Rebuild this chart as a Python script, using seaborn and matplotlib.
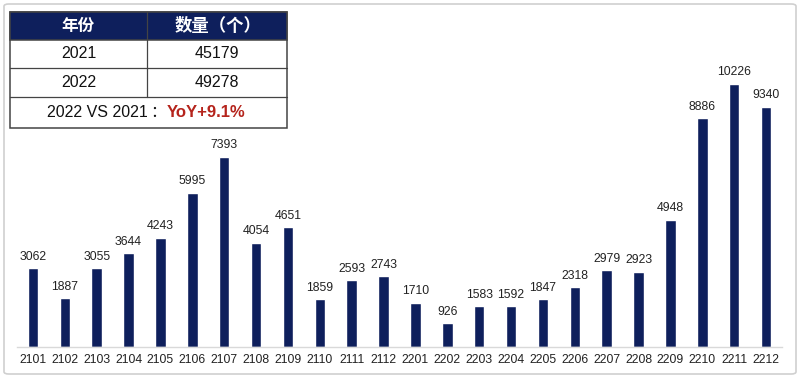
"""Monthly counts 2021-2022 bar chart with summary table"""

import pandas as pd
import matplotlib.pyplot as plt
import matplotlib.patches as mpatches
import seaborn as sns

#####################################################################
# data
months = ["2101", "2102", "2103", "2104", "2105", "2106", "2107", "2108",
          "2109", "2110", "2111", "2112", "2201", "2202", "2203", "2204",
          "2205", "2206", "2207", "2208", "2209", "2210", "2211", "2212"]
counts = [3062, 1887, 3055, 3644, 4243, 5995, 7393, 4054,
          4651, 1859, 2593, 2743, 1710, 926, 1583, 1592,
          1847, 2318, 2979, 2923, 4948, 8886, 10226, 9340]

table_header = ["年份", "数量（个）"]
table_years = ["2021", "2022"]
table_totals = ["45179", "49278"]
compare_text = "2022 VS 2021"
yoy_text = "YoY+9.1%"

df = pd.DataFrame({"month": months, "count": counts})

#####################################################################
# style
sns.set_style("white")
plt.rcParams['font.family'] = ['Liberation Sans', 'Noto Sans CJK SC', 'DejaVu Sans']

navy = '#0e1f5c'
W, H = 800, 378

fig = plt.figure(figsize=(8, 3.78), dpi=100)
# axes in pixel terms: x 17..782, baseline at y=347
ax = fig.add_axes([17 / W, (H - 347) / H, (782 - 17) / W, (347 - 8) / H])

sns.barplot(data=df, x="month", y="count", color=navy, width=0.33,
            saturation=1, ax=ax)
ax.bar_label(ax.containers[0], labels=[str(v) for v in counts],
             padding=4, fontsize=8.8, color='#222222')

ax.set_xlim(-0.5, len(months) - 0.5)
ax.set_ylim(0, 10226 * (347 - 8) / 263)
ax.set_xlabel("")
ax.set_ylabel("")
ax.set_yticks([])
ax.tick_params(axis='x', length=0, labelsize=8.8, pad=5, labelcolor='#222222')
for side in ['left', 'right', 'top']:
    ax.spines[side].set_visible(False)
ax.spines['bottom'].set_color('#d9d9d9')
ax.spines['bottom'].set_linewidth(1)

#####################################################################
# outer border
fig.patches.append(mpatches.FancyBboxPatch(
    (4 / W, 4 / H), (W - 8) / W, (H - 8) / H,
    boxstyle="round,pad=0,rounding_size=0.006", transform=fig.transFigure,
    fill=False, edgecolor='#d0d0d0', linewidth=1.2, zorder=0))

#####################################################################
# summary table (pixel coords, y from top)
tx0, tx1, tmid = 10, 287, 147
rows_y = [12, 40, 68, 97, 128]
line_col = '#444444'


def fx(px):
    return px / W


def fy(py):
    return (H - py) / H


table_bg = mpatches.Rectangle((fx(tx0), fy(rows_y[-1])), fx(tx1) - fx(tx0),
                              fy(rows_y[0]) - fy(rows_y[-1]),
                              transform=fig.transFigure, facecolor='white',
                              edgecolor=line_col, linewidth=1.1, zorder=3)
fig.patches.append(table_bg)
header = mpatches.Rectangle((fx(tx0), fy(rows_y[1])), fx(tx1) - fx(tx0),
                            fy(rows_y[0]) - fy(rows_y[1]),
                            transform=fig.transFigure, facecolor=navy,
                            edgecolor=line_col, linewidth=1.1, zorder=4)
fig.patches.append(header)
for ry in rows_y[2:4]:
    fig.lines.append(plt.Line2D([fx(tx0), fx(tx1)], [fy(ry), fy(ry)],
                                transform=fig.transFigure, color=line_col,
                                linewidth=0.9, zorder=5))
fig.lines.append(plt.Line2D([fx(tmid), fx(tmid)], [fy(rows_y[0]), fy(rows_y[3])],
                            transform=fig.transFigure, color=line_col,
                            linewidth=0.9, zorder=5))

cx_left = (tx0 + tmid) / 2
cx_right = (tmid + tx1) / 2
fig.text(fx(cx_left), fy((rows_y[0] + rows_y[1]) / 2), table_header[0],
         ha='center', va='center', color='white', fontsize=12,
         fontweight='bold', family=['Noto Sans CJK SC'], zorder=6)
fig.text(fx(cx_right + 1), fy((rows_y[0] + rows_y[1]) / 2), table_header[1],
         ha='center', va='center', color='white', fontsize=12.5,
         fontweight='bold', family=['Noto Sans CJK SC'], zorder=6)
for i, (yr, tot) in enumerate(zip(table_years, table_totals)):
    yc = (rows_y[i + 1] + rows_y[i + 2]) / 2
    fig.text(fx(cx_left), fy(yc), yr, ha='center', va='center',
             fontsize=11.5, color='#111111', zorder=6)
    fig.text(fx(cx_right), fy(yc), tot, ha='center', va='center',
             fontsize=11.5, color='#111111', zorder=6)

yc = (rows_y[3] + rows_y[4]) / 2
fig.text(fx(47), fy(yc), compare_text, ha='left', va='center',
         fontsize=11.5, color='#111111', zorder=6)
fig.text(fx(158), fy(yc), "：", ha='center', va='center',
         fontsize=11.5, color='#111111', family=['Noto Sans CJK SC'], zorder=6)
fig.text(fx(167), fy(yc), yoy_text, ha='left', va='center', fontsize=12,
         color='#b5241c', fontweight='bold', zorder=6)

#####################################################################
# save
plt.savefig("out.png", dpi=100)
